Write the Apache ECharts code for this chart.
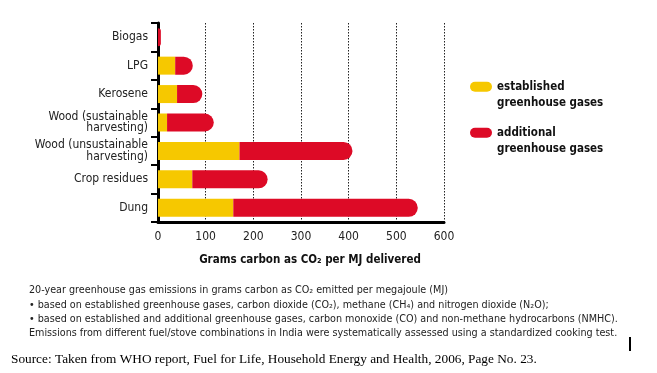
<!DOCTYPE html>
<html><head><meta charset="utf-8">
<script src="https://cdn.jsdelivr.net/npm/echarts@6/dist/echarts.min.js"></script>
<style>html,body{margin:0;padding:0;background:#fff}#c{width:657px;height:373px}</style>
</head><body><div id="c"></div>
<script>
var categories = ['Biogas', 'LPG', 'Kerosene', 'Wood (sustainable\nharvesting)', 'Wood (unsustainable\nharvesting)', 'Crop residues', 'Dung'];
var established = [0, 36, 40, 19, 171, 72, 158];
var additional = [6, 37, 53, 98, 237, 158, 387];
var xTicks = [0, 100, 200, 300, 400, 500, 600];
var seriesNames = ['established\ngreenhouse gases', 'additional\ngreenhouse gases'];
var notes = [
  '20-year greenhouse gas emissions in grams carbon as CO₂ emitted per megajoule (MJ)',
  '• based on established greenhouse gases, carbon dioxide (CO₂), methane (CH₄) and nitrogen dioxide (N₂O);',
  '• based on established and additional greenhouse gases, carbon monoxide (CO) and non-methane hydrocarbons (NMHC).',
  'Emissions from different fuel/stove combinations in India were systematically assessed using a standardized cooking test.'
];
var source = 'Source: Taken from WHO report, Fuel for Life, Household Energy and Health, 2006, Page No. 23.';

var NARROW = "'Liberation Sans Narrow','DejaVu Sans Condensed',sans-serif";
var chart = echarts.init(document.getElementById('c'), null, {renderer: 'canvas'});
var graphics = notes.map(function (t, i) {
  return {type: 'text', left: 29, top: 285 + i * 14.3,
    style: {text: t, font: '10.7px ' + NARROW, fill: '#222'}};
});
graphics.push({type: 'text', left: 11, top: 353,
  style: {text: source, font: '13.3px "Liberation Serif",serif', fill: '#000'}});
graphics.push({type: 'rect', shape: {x: 629, y: 337, width: 2, height: 14}, style: {fill: '#000'}});

var PILL = 'path://M5,0 H17 A5,5 0 0 1 17,10 H5 A5,5 0 0 1 5,0 Z';
function legendFor(i, top) {
  return {
    orient: 'vertical', left: 470, top: top, padding: 0, itemWidth: 22, itemHeight: 11, itemGap: 0, textGap: 8,
    icon: PILL, selectedMode: false,
    formatter: function (n) { return ' \n' + n; },
    textStyle: {fontSize: 11.5, fontWeight: 'bold', fontFamily: NARROW, color: '#111', lineHeight: 16.5},
    data: [seriesNames[i]]
  };
}

chart.setOption({
  animation: false,
  grid: {left: 158, top: 23, width: 286, height: 199},
  xAxis: {
    type: 'value', min: 0, max: 600, interval: 100,
    axisLine: {show: true, lineStyle: {color: '#000', width: 3}},
    axisTick: {show: false},
    axisLabel: {color: '#222', fontSize: 12, fontFamily: NARROW, margin: 9,
      formatter: function (v) { return xTicks.indexOf(v) >= 0 ? String(v) : ''; }},
    splitLine: {show: true, lineStyle: {color: '#222', type: [1.5, 1.5], width: 1}},
    name: 'Grams carbon as CO₂ per MJ delivered', nameLocation: 'middle', nameGap: 32,
    nameTextStyle: {fontSize: 11.5, fontWeight: 'bold', fontFamily: NARROW, color: '#111', padding: [0, 0, 0, 18]}
  },
  yAxis: {
    type: 'category', data: categories, inverse: true,
    axisLine: {show: true, lineStyle: {color: '#000', width: 3}},
    axisTick: {show: true, length: 7, lineStyle: {color: '#000', width: 2}},
    axisLabel: {color: '#222', fontSize: 12, fontFamily: NARROW, margin: 10, lineHeight: 11.5, align: 'right'},
    splitLine: {show: false}
  },
  legend: [legendFor(0, 62), legendFor(1, 108)],
  series: [
    {name: seriesNames[0], type: 'bar', stack: 'a', data: established, barWidth: 18,
      itemStyle: {color: '#F6C800'}},
    {name: seriesNames[1], type: 'bar', stack: 'a', data: additional, barWidth: 18,
      itemStyle: {color: '#DD0A26', borderRadius: [0, 9, 9, 0]}}
  ],
  graphic: graphics
});
</script></body></html>
